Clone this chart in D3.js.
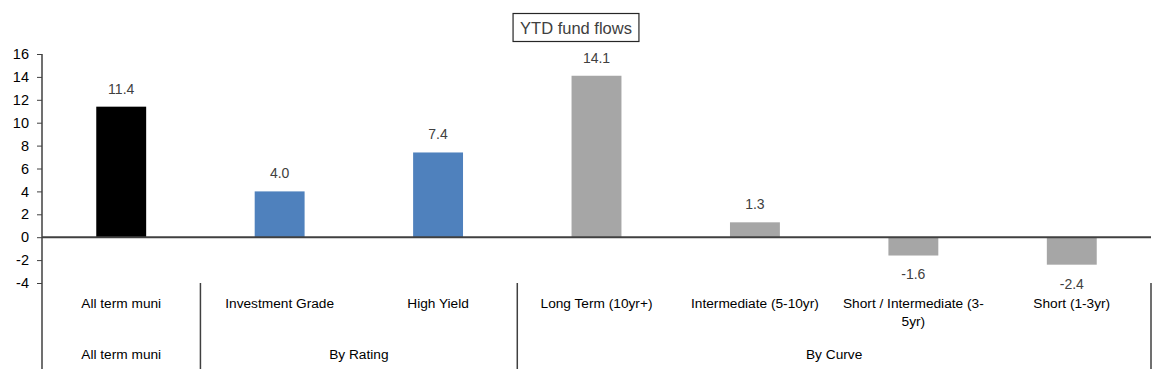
<!DOCTYPE html>
<html>
<head>
<meta charset="utf-8">
<script src="https://cdn.jsdelivr.net/npm/d3@7"></script>
<style>
  body { margin: 0; background: #fff; }
  svg { display: block; font-family: "Liberation Sans", Arial, sans-serif; }
</style>
</head>
<body>
<div id="chart"></div>
<script>
// data
var categories = ['All term muni', 'Investment Grade', 'High Yield', 'Long Term (10yr+)',
    'Intermediate (5-10yr)', 'Short / Intermediate (3-5yr)', 'Short (1-3yr)'];
var categoryLines = [['All term muni'], ['Investment Grade'], ['High Yield'], ['Long Term (10yr+)'],
    ['Intermediate (5-10yr)'], ['Short / Intermediate (3-', '5yr)'], ['Short (1-3yr)']];
var flows = [11.4, 4.0, 7.4, 14.1, 1.3, -1.6, -2.4];
var groupNames = ['All term muni', 'By Rating', 'By Curve'];
var groupSizes = [1, 2, 4];
var barColors = ['#000000', '#4F81BD', '#4F81BD', '#A6A6A6', '#A6A6A6', '#A6A6A6', '#A6A6A6'];
var yTicks = [16, 14, 12, 10, 8, 6, 4, 2, 0, -2, -4];

(function () {
    var width = 1152, height = 369;
    var plotL = 42, plotR = 1151, plotT = 54, plotB = 283;

    var svg = d3.select('#chart').append('svg').attr('width', width).attr('height', height);

    var x = d3.scaleBand().domain(categories).range([plotL, plotR]).paddingInner(0).paddingOuter(0);
    var y = d3.scaleLinear().domain([-4, 16]).range([plotB, plotT]);
    var barW = x.bandwidth() * 0.315;

    // y axis (plain hyphen for negatives, like the original)
    var yAxis = d3.axisLeft(y).tickValues(yTicks).tickSize(5).tickFormat(function (d) { return String(d); });
    var ya = svg.append('g').attr('transform', 'translate(' + plotL + ',0)').call(yAxis);
    ya.select('.domain').attr('stroke', '#404040').attr('stroke-width', 1.5).attr('d', 'M0,' + plotT + 'V' + height);
    ya.selectAll('.tick line').attr('stroke', '#404040');
    ya.selectAll('.tick text').attr('font-size', 14.5).attr('fill', '#000').attr('x', -13)
        .attr('font-family', '"Liberation Sans", Arial, sans-serif');

    // bars
    svg.selectAll('.bar').data(flows).enter().append('rect').classed('bar', true)
        .attr('x', function (d, i) { return x(categories[i]) + x.bandwidth() / 2 - barW / 2; })
        .attr('y', function (d) { return y(Math.max(0, d)); })
        .attr('width', barW)
        .attr('height', function (d) { return Math.abs(y(d) - y(0)); })
        .attr('fill', function (d, i) { return barColors[i]; });

    // zero line
    svg.append('line').attr('x1', plotL).attr('x2', plotR).attr('y1', y(0)).attr('y2', y(0))
        .attr('stroke', '#404040').attr('stroke-width', 2);

    // value labels
    svg.selectAll('.val').data(flows).enter().append('text').classed('val', true)
        .attr('x', function (d, i) { return x(categories[i]) + x.bandwidth() / 2; })
        .attr('y', function (d) { return d >= 0 ? y(d) - 18 : y(d) + 19; })
        .attr('dy', '0.35em')
        .attr('text-anchor', 'middle')
        .attr('font-size', 14)
        .attr('fill', '#404040')
        .text(function (d) { return d.toFixed(1); });

    // category labels
    var cat = svg.selectAll('.cat').data(categoryLines).enter().append('text').classed('cat', true)
        .attr('text-anchor', 'middle').attr('font-size', 13.7).attr('fill', '#000');
    cat.selectAll('tspan').data(function (d, i) { return d.map(function (t) { return { t: t, i: i }; }); })
        .enter().append('tspan')
        .attr('x', function (d) { return x(categories[d.i]) + x.bandwidth() / 2; })
        .attr('y', function (d, j) { return 303 + j * 18; })
        .attr('dy', '0.35em')
        .text(function (d) { return d.t; });

    // group separators and labels
    var start = 0;
    var seps = [];
    groupSizes.forEach(function (n, g) {
        var x0 = x(categories[start]);
        var x1 = x(categories[start + n - 1]) + x.bandwidth();
        seps.push(x1);
        svg.append('text').attr('x', (x0 + x1) / 2).attr('y', 354).attr('dy', '0.35em')
            .attr('text-anchor', 'middle').attr('font-size', 13.7).attr('fill', '#000')
            .text(groupNames[g]);
        start += n;
    });
    seps.forEach(function (sx) {
        svg.append('line').attr('x1', sx).attr('x2', sx).attr('y1', plotB).attr('y2', height)
            .attr('stroke', '#404040').attr('stroke-width', 1.5);
    });

    // title box
    var title = svg.append('text').attr('x', 576).attr('y', 28).attr('dy', '0.35em')
        .attr('text-anchor', 'middle').attr('font-size', 16.5).attr('fill', '#404040').text('YTD fund flows');
    var bb = title.node().getBBox();
    svg.append('rect').attr('x', bb.x - 7).attr('y', 13.5).attr('width', bb.width + 14).attr('height', 28)
        .attr('fill', 'none').attr('stroke', '#262626').attr('stroke-width', 1.2);
})();
</script>
</body>
</html>
